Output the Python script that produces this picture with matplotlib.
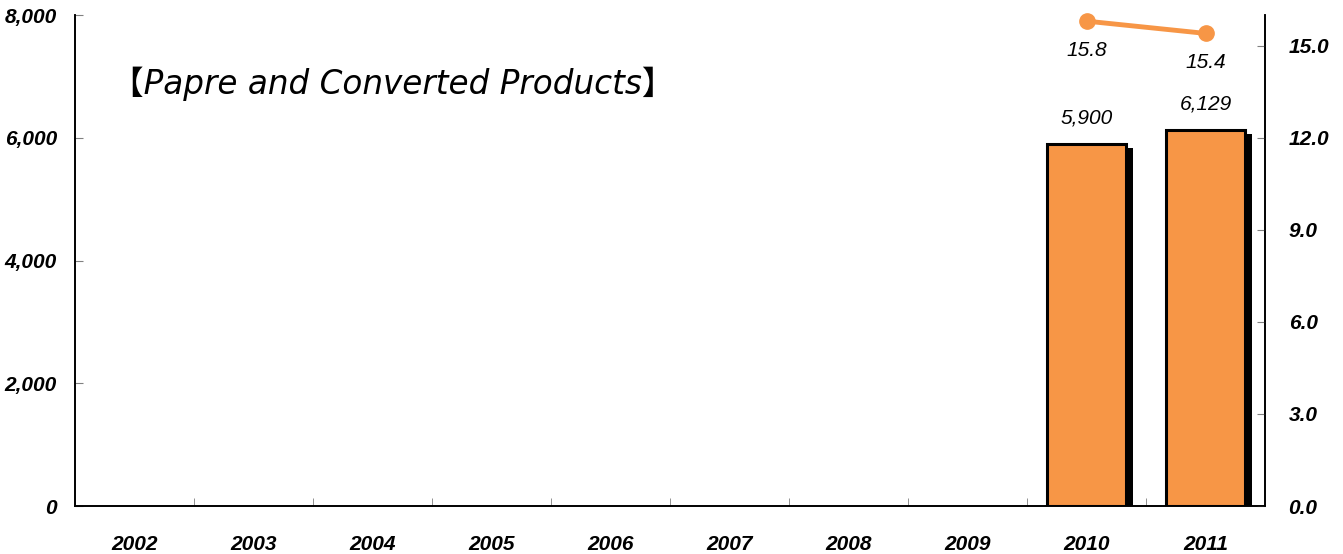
import matplotlib
matplotlib.use("Agg")
import matplotlib.pyplot as plt
import matplotlib.patheffects as pe
import numpy as np

years = ["2002", "2003", "2004", "2005", "2006", "2007", "2008", "2009", "2010", "2011"]
shipments = [None, None, None, None, None, None, None, None, 5900, 6129]
share = [None, None, None, None, None, None, None, None, 15.8, 15.4]
title = "【Papre and Converted Products】"

orange = "#F79646"
plt.rcParams["font.family"] = ["Liberation Sans", "DejaVu Sans", "Noto Sans CJK JP"]

fig = plt.figure(figsize=(13.43, 5.54), dpi=100)
ax = fig.add_axes([75 / 1343, 48 / 554, 1190 / 1343, 491 / 554])
ax2 = ax.twinx()

x = np.arange(len(years))
bx = [i for i, v in zip(x, shipments) if v is not None]
bv = [v for v in shipments if v is not None]
bars = ax.bar(bx, bv, width=0.67, color=orange, edgecolor="black", linewidth=2.2, zorder=3)
for b in bars:
    b.set_path_effects([pe.SimplePatchShadow(offset=(5, -3), shadow_rgbFace="black", alpha=1.0), pe.Normal()])
for xi, v in zip(bx, bv):
    ax.annotate(f"{v:,}", (xi, v), xytext=(0, 12), textcoords="offset points",
                ha="center", va="bottom", fontsize=15, style="italic")

lx = [i for i, v in zip(x, share) if v is not None]
lv = [v for v in share if v is not None]
ax2.plot(lx, lv, color=orange, linewidth=3.5, marker="o", markersize=11, zorder=4, clip_on=False)
for xi, v in zip(lx, lv):
    ax2.annotate(f"{v:.1f}", (xi, v), xytext=(0, -14), textcoords="offset points",
                 ha="center", va="top", fontsize=15, style="italic")

ax.set_xlim(-0.5, len(years) - 0.5)
ax.set_ylim(0, 8000)
ax.set_yticks(np.arange(0, 8001, 2000))
ax.set_yticklabels([f"{v:,}" for v in range(0, 8001, 2000)], fontsize=15,
                   fontweight="bold", style="italic")
ax2.set_ylim(0, 16)
ax2.set_yticks(np.arange(0, 15.1, 3))
ax2.set_yticklabels([f"{v:.1f}" for v in np.arange(0, 15.1, 3)], fontsize=15,
                    fontweight="bold", style="italic")

ax.set_xticks(x)
ax.set_xticklabels(years, fontsize=15, fontweight="bold", style="italic")
ax.set_xticks(np.arange(0.5, len(years) - 1, 1), minor=True)
ax.tick_params(axis="x", which="major", length=0, pad=21)
ax.tick_params(axis="x", which="minor", length=6, direction="in", color="#808080")
ax.tick_params(axis="y", direction="in", length=6, color="#808080", pad=13)
ax2.tick_params(axis="y", direction="in", length=6, color="#808080", pad=17)

for a in (ax, ax2):
    a.spines["top"].set_visible(False)
    for s in ("left", "right", "bottom"):
        a.spines[s].set_linewidth(1.2)

ax.text(0.03, 0.86, title, transform=ax.transAxes, fontsize=23.5, style="italic",
        ha="left", va="center", family=["DejaVu Sans", "Noto Sans CJK JP"])

fig.savefig("out.png", dpi=100)
